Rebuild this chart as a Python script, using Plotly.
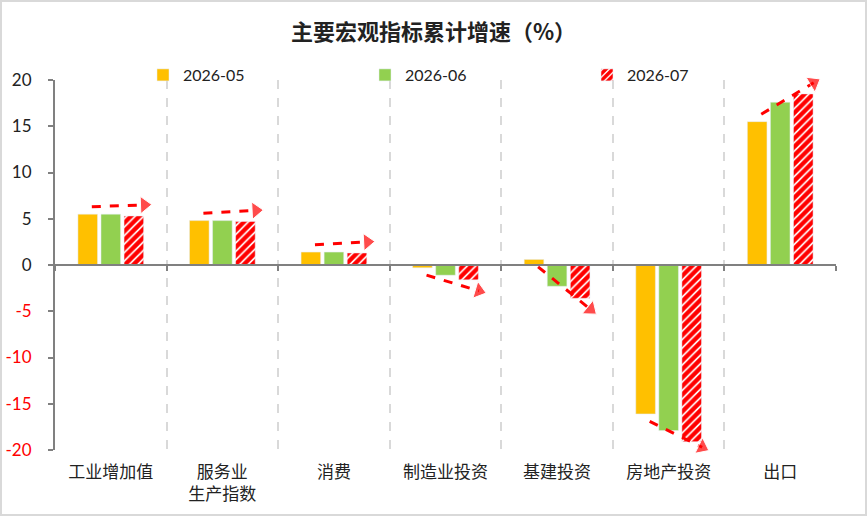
import plotly.graph_objects as go

categories = ["工业增加值", "服务业<br>生产指数", "消费", "制造业投资", "基建投资", "房地产投资", "出口"]
series_names = ["2026-05", "2026-06", "2026-07"]
v_05 = [5.5, 4.8, 1.4, -0.3, 0.6, -16.1, 15.5]
v_06 = [5.5, 4.8, 1.4, -1.1, -2.3, -17.9, 17.6]
v_07 = [5.3, 4.7, 1.3, -1.6, -3.6, -19.1, 18.5]
y_ticks = [-20, -15, -10, -5, 0, 5, 10, 15, 20]
title_text = "主要宏观指标累计增速（%）"

W, H = 867, 516
ML, MR, MT, MB = 55, 31, 80, 66
FONT = "Lato, Noto Sans CJK SC, sans-serif"
CJK = "Noto Sans CJK SC, sans-serif"
pw, ph = W - ML - MR, H - MT - MB
y_min, y_max = y_ticks[0], y_ticks[-1]

fig = go.Figure()
fig.add_trace(go.Bar(name=series_names[0], x=categories, y=v_05, marker_color="#FFC000"))
fig.add_trace(go.Bar(name=series_names[1], x=categories, y=v_06, marker_color="#92D050"))
fig.add_trace(go.Bar(name=series_names[2], x=categories, y=v_07,
                     marker=dict(color="white",
                                 pattern=dict(shape="/", fgcolor="#FF0000", bgcolor="white",
                                              fgopacity=1, size=6, solidity=0.72))))

# trend arrows derived from the data
for i in range(len(categories)):
    s = 1 if v_07[i] >= 0 else -1
    xs = [i - 0.17, i + 0.3]
    ys = [v_05[i] + s * 0.8, max(v_07[i] + s * 1.2, y_min + 0.3)]
    fig.add_trace(go.Scatter(x=xs, y=ys, xaxis="x2", yaxis="y", mode="lines+markers",
                             line=dict(color="#FF0000", width=3, dash="dash"),
                             marker=dict(symbol="triangle-up", size=[0, 15], angleref="previous",
                                         color="#FF0000"),
                             showlegend=False, hoverinfo="skip", cliponaxis=False))

ytext = [f'<span style="color:#FF0000">{t}</span>' if t < 0 else str(t) for t in y_ticks]

fig.update_layout(
    width=W, height=H,
    margin=dict(l=ML, r=MR, t=MT, b=MB, autoexpand=False),
    paper_bgcolor="white", plot_bgcolor="white",
    barmode="group", bargap=0.38, bargroupgap=0.15,
    title=dict(text=title_text, x=0.5, xanchor="center", y=1 - 32 / H, yanchor="middle",
               font=dict(family=CJK, size=22, color="#222222", weight="bold")),
    legend=dict(orientation="h", x=(143 - ML) / pw, xanchor="left",
                y=1 + 5 / ph, yanchor="middle",
                entrywidth=177, entrywidthmode="pixels",
                font=dict(family=FONT, size=16, color="#222222"), bgcolor="rgba(0,0,0,0)"),
    font=dict(family=FONT, color="#222222"),
    xaxis=dict(type="category", showline=False, ticks="", tickson="boundaries",
               showgrid=True, gridcolor="#D9D9D9", griddash="dash", gridwidth=1.5,
               tickfont=dict(family=CJK, size=17, color="#222222"), ticklabelstandoff=10,
               zeroline=False, automargin=False),
    xaxis2=dict(overlaying="x", anchor="free", position=0.5, range=[-0.5, 6.5],
                tickvals=[k - 0.5 for k in range(len(categories) + 1)],
                showticklabels=False, ticks="outside", ticklen=5, tickwidth=2, tickcolor="#808080",
                showline=True, linecolor="#808080", linewidth=2, showgrid=False, zeroline=False,
                automargin=False),
    yaxis=dict(range=[y_min, y_max], tickvals=y_ticks, ticktext=ytext, showgrid=False,
               showline=True, linecolor="#808080", linewidth=2, ticks="outside", ticklen=5,
               tickwidth=2, tickcolor="#808080", zeroline=False, automargin=False,
               tickfont=dict(family=FONT, size=17, color="#222222"), ticklabelstandoff=13),
)

# outer frame
fig.add_shape(type="rect", xref="paper", yref="paper",
              x0=(1 - ML) / pw, x1=(W - 1 - ML) / pw,
              y0=-(MB - 1) / ph, y1=(H - 1 - MB) / ph,
              line=dict(color="#D9D9D9", width=2), fillcolor="rgba(0,0,0,0)", layer="below")

fig.write_html("out.html", config={"displayModeBar": False},
               post_script="document.body.style.margin='0';")
